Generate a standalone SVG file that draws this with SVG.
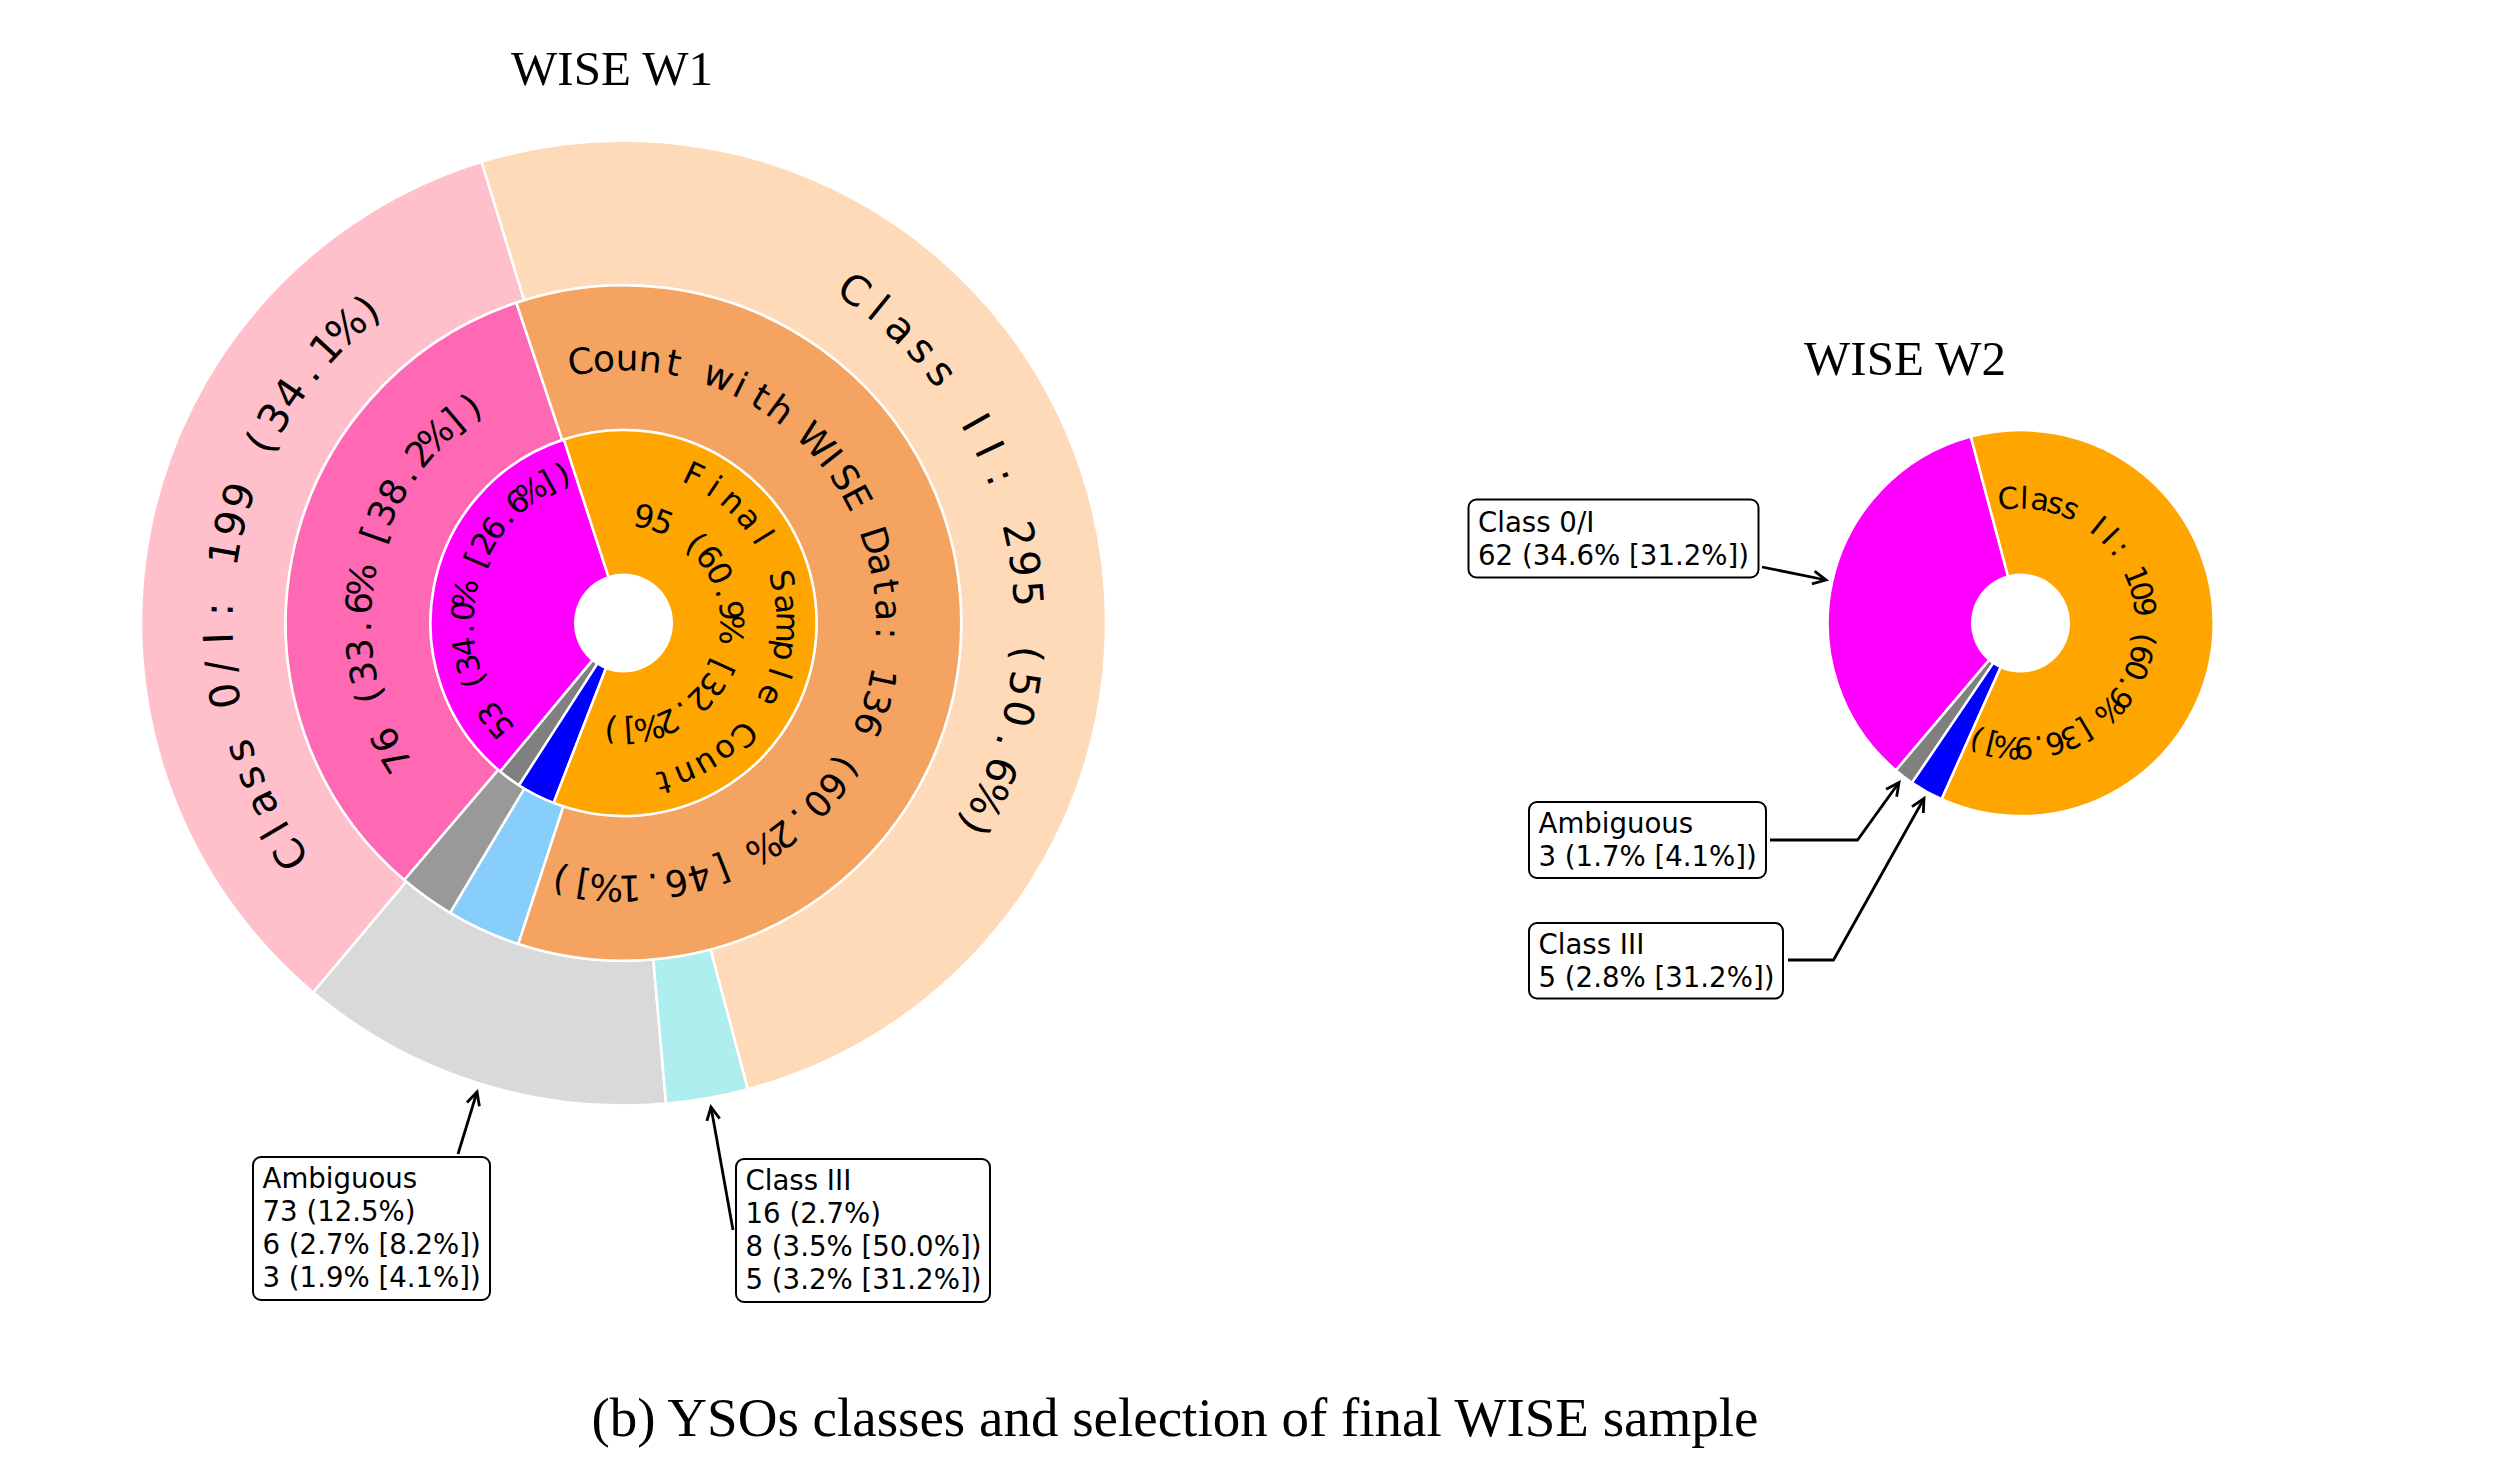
<svg xmlns="http://www.w3.org/2000/svg" width="2494" height="1463" viewBox="0 0 2494 1463">
<style>
  .w { stroke: #ffffff; stroke-width: 2.5; stroke-linejoin: round; }
  .ct text { font-family: "DejaVu Sans", sans-serif; text-anchor: middle; dominant-baseline: central; fill: #000; }
  .o { font-size: 41px; }
  .m { font-size: 36px; }
  .i1 { font-size: 31px; }
  .i2 { font-size: 32px; }
  .i3 { font-size: 32px; }
  .w2t { font-size: 30px; }
  .box rect { fill: #ffffff; stroke: #000000; stroke-width: 2; }
  .box text { font-family: "DejaVu Sans", sans-serif; font-size: 27.6px; fill: #000; }
  .title { font-family: "Liberation Serif", "Times New Roman", serif; fill: #000; text-anchor: middle; }
  .conn { fill: none; stroke: #000; stroke-width: 2.8; marker-end: url(#ah); }
</style>
<defs>
  <marker id="ah" markerUnits="userSpaceOnUse" viewBox="-16 -10 20 20" refX="0" refY="0" markerWidth="20" markerHeight="20" orient="auto">
    <path d="M-13,-6.5 L0,0 L-13,6.5" fill="none" stroke="#000" stroke-width="2.8"/>
  </marker>
</defs>
<rect x="0" y="0" width="2494" height="1463" fill="#ffffff"/>

<text class="title" x="612" y="85" font-size="49">WISE W1</text>
<text class="title" x="1905" y="374.5" font-size="49">WISE W2</text>
<text class="title" x="1175" y="1436" font-size="55">(b) YSOs classes and selection of final WISE sample</text>

<!-- W1 outer ring -->
<g id="w1-outer">
  <path id="w1-outer-class0I" class="w" fill="#FFC0CB" d="M 481.63 161.83 A 482.5 482.5 0 0 0 313.22 992.51 L 406.31 881.66 A 337.75 337.75 0 0 1 524.19 300.18 Z"/>
  <path id="w1-outer-ambiguous" class="w" fill="#D9D9D9" d="M 313.22 992.51 A 482.5 482.5 0 0 0 666.06 1103.62 L 653.29 959.43 A 337.75 337.75 0 0 1 406.31 881.66 Z"/>
  <path id="w1-outer-class3" class="w" fill="#AFEEEE" d="M 666.06 1103.62 A 482.5 482.5 0 0 0 747.89 1089.19 L 710.58 949.33 A 337.75 337.75 0 0 1 653.29 959.43 Z"/>
  <path id="w1-outer-class2" class="w" fill="#FFDAB9" d="M 747.89 1089.19 A 482.5 482.5 0 1 0 481.63 161.83 L 524.19 300.18 A 337.75 337.75 0 1 1 710.58 949.33 Z"/>
</g>
<!-- W1 middle ring -->
<g id="w1-middle">
  <path id="w1-mid-class0I" class="w" fill="#FF69B4" d="M 516.33 302.70 A 337.75 337.75 0 0 0 404.41 880.06 L 498.31 769.89 A 193 193 0 0 1 562.26 439.97 Z"/>
  <path id="w1-mid-ambiguous" class="w" fill="#999999" d="M 404.41 880.06 A 337.75 337.75 0 0 0 450.15 912.87 L 524.44 788.64 A 193 193 0 0 1 498.31 769.89 Z"/>
  <path id="w1-mid-class3" class="w" fill="#87CEFA" d="M 450.15 912.87 A 337.75 337.75 0 0 0 518.34 943.96 L 563.41 806.41 A 193 193 0 0 1 524.44 788.64 Z"/>
  <path id="w1-mid-class2" class="w" fill="#F4A460" d="M 518.34 943.96 A 337.75 337.75 0 1 0 516.33 302.70 L 562.26 439.97 A 193 193 0 1 1 563.41 806.41 Z"/>
</g>
<!-- W1 inner ring -->
<g id="w1-inner">
  <path id="w1-in-class0I" class="w" fill="#FF00FF" d="M 563.86 439.45 A 193 193 0 0 0 500.24 771.52 L 592.68 660.13 A 48.25 48.25 0 0 1 608.59 577.11 Z"/>
  <path id="w1-in-ambiguous" class="w" fill="#808080" d="M 500.24 771.52 A 193 193 0 0 0 519.03 785.29 L 597.38 663.57 A 48.25 48.25 0 0 1 592.68 660.13 Z"/>
  <path id="w1-in-class3" class="w" fill="#0000FF" d="M 519.03 785.29 A 193 193 0 0 0 553.61 802.90 L 606.03 667.98 A 48.25 48.25 0 0 1 597.38 663.57 Z"/>
  <path id="w1-in-class2" class="w" fill="#FFA500" d="M 553.61 802.90 A 193 193 0 1 0 563.86 439.45 L 608.59 577.11 A 48.25 48.25 0 1 1 606.03 667.98 Z"/>
</g>

<!-- W1 curved labels -->
<g transform="translate(623.5,623)">
  <g id="lbl-outer-class0I" class="ct o">
    <text transform="rotate(-124.8)" y="-405">C</text><text transform="rotate(-120.72)" y="-405">l</text><text transform="rotate(-116.64)" y="-405">a</text><text transform="rotate(-112.56)" y="-405">s</text><text transform="rotate(-108.48)" y="-405">s</text>
    <text transform="rotate(-100.32)" y="-405">0</text><text transform="rotate(-96.24)" y="-405">/</text><text transform="rotate(-92.16)" y="-405">I</text><text transform="rotate(-88.08)" y="-405">:</text>
    <text transform="rotate(-79.92)" y="-405">1</text><text transform="rotate(-75.84)" y="-405">9</text><text transform="rotate(-71.76)" y="-405">9</text>
    <text transform="rotate(-63.6)" y="-405">(</text><text transform="rotate(-59.52)" y="-405">3</text><text transform="rotate(-55.44)" y="-405">4</text><text transform="rotate(-51.36)" y="-405">.</text><text transform="rotate(-47.28)" y="-405">1</text><text transform="rotate(-43.2)" y="-405">%</text><text transform="rotate(-39.12)" y="-405">)</text>
  </g>
  <g id="lbl-outer-class2" class="ct o">
    <text transform="rotate(34.75)" y="-405">C</text><text transform="rotate(39.01)" y="-405">l</text><text transform="rotate(43.27)" y="-405">a</text><text transform="rotate(47.53)" y="-405">s</text><text transform="rotate(51.79)" y="-405">s</text>
    <text transform="rotate(60.31)" y="-405">I</text><text transform="rotate(64.57)" y="-405">I</text><text transform="rotate(68.83)" y="-405">:</text>
    <text transform="rotate(77.35)" y="-405">2</text><text transform="rotate(81.61)" y="-405">9</text><text transform="rotate(85.87)" y="-405">5</text>
    <text transform="rotate(94.39)" y="-405">(</text><text transform="rotate(98.65)" y="-405">5</text><text transform="rotate(102.91)" y="-405">0</text><text transform="rotate(107.17)" y="-405">.</text><text transform="rotate(111.43)" y="-405">6</text><text transform="rotate(115.69)" y="-405">%</text><text transform="rotate(119.95)" y="-405">)</text>
  </g>
  <g id="lbl-mid-class0I" class="ct m">
    <text transform="rotate(-121.2)" y="-265">7</text><text transform="rotate(-116.13)" y="-265">6</text>
    <text transform="rotate(-105.99)" y="-265">(</text><text transform="rotate(-100.92)" y="-265">3</text><text transform="rotate(-95.85)" y="-265">3</text><text transform="rotate(-90.78)" y="-265">.</text><text transform="rotate(-85.71)" y="-265">6</text><text transform="rotate(-80.64)" y="-265">%</text>
    <text transform="rotate(-70.5)" y="-265">[</text><text transform="rotate(-65.43)" y="-265">3</text><text transform="rotate(-60.36)" y="-265">8</text><text transform="rotate(-55.29)" y="-265">.</text><text transform="rotate(-50.22)" y="-265">2</text><text transform="rotate(-45.15)" y="-265">%</text><text transform="rotate(-40.08)" y="-265">]</text><text transform="rotate(-35.01)" y="-265">)</text>
  </g>
  <g id="lbl-mid-class2" class="ct m">
    <text transform="rotate(-9.36)" y="-265">C</text><text transform="rotate(-4.28)" y="-265">o</text><text transform="rotate(0.8)" y="-265">u</text><text transform="rotate(5.88)" y="-265">n</text><text transform="rotate(10.96)" y="-265">t</text>
    <text transform="rotate(21.12)" y="-265">w</text><text transform="rotate(26.2)" y="-265">i</text><text transform="rotate(31.28)" y="-265">t</text><text transform="rotate(36.36)" y="-265">h</text>
    <text transform="rotate(46.52)" y="-265">W</text><text transform="rotate(51.6)" y="-265">I</text><text transform="rotate(56.68)" y="-265">S</text><text transform="rotate(61.76)" y="-265">E</text>
    <text transform="rotate(71.92)" y="-265">D</text><text transform="rotate(77)" y="-265">a</text><text transform="rotate(82.08)" y="-265">t</text><text transform="rotate(87.16)" y="-265">a</text><text transform="rotate(92.24)" y="-265">:</text>
    <text transform="rotate(102.4)" y="-265">1</text><text transform="rotate(107.48)" y="-265">3</text><text transform="rotate(112.56)" y="-265">6</text>
    <text transform="rotate(122.72)" y="-265">(</text><text transform="rotate(127.8)" y="-265">6</text><text transform="rotate(132.88)" y="-265">0</text><text transform="rotate(137.96)" y="-265">.</text><text transform="rotate(143.04)" y="-265">2</text><text transform="rotate(148.12)" y="-265">%</text>
    <text transform="rotate(158.28)" y="-265">[</text><text transform="rotate(163.36)" y="-265">4</text><text transform="rotate(168.44)" y="-265">6</text><text transform="rotate(173.52)" y="-265">.</text><text transform="rotate(178.6)" y="-265">1</text><text transform="rotate(183.68)" y="-265">%</text><text transform="rotate(188.76)" y="-265">]</text><text transform="rotate(193.84)" y="-265">)</text>
  </g>
  <g id="lbl-in-class0I" class="ct i1">
    <text transform="rotate(-130.3)" y="-161">5</text><text transform="rotate(-123.94)" y="-161">3</text>
    <text transform="rotate(-111.22)" y="-161">(</text><text transform="rotate(-104.86)" y="-161">3</text><text transform="rotate(-98.5)" y="-161">4</text><text transform="rotate(-92.14)" y="-161">.</text><text transform="rotate(-85.78)" y="-161">0</text><text transform="rotate(-79.42)" y="-161">%</text>
    <text transform="rotate(-66.7)" y="-161">[</text><text transform="rotate(-60.34)" y="-161">2</text><text transform="rotate(-53.98)" y="-161">6</text><text transform="rotate(-47.62)" y="-161">.</text><text transform="rotate(-41.26)" y="-161">6</text><text transform="rotate(-34.9)" y="-161">%</text><text transform="rotate(-28.54)" y="-161">]</text><text transform="rotate(-22.18)" y="-161">)</text>
  </g>
  <g id="lbl-in-final" class="ct i2">
    <text transform="rotate(25.4)" y="-164">F</text><text transform="rotate(33.66)" y="-164">i</text><text transform="rotate(41.92)" y="-164">n</text><text transform="rotate(50.18)" y="-164">a</text><text transform="rotate(58.44)" y="-164">l</text>
    <text transform="rotate(74.96)" y="-164">S</text><text transform="rotate(83.22)" y="-164">a</text><text transform="rotate(91.48)" y="-164">m</text><text transform="rotate(99.74)" y="-164">p</text><text transform="rotate(108)" y="-164">l</text><text transform="rotate(116.26)" y="-164">e</text>
    <text transform="rotate(132.78)" y="-164">C</text><text transform="rotate(141.04)" y="-164">o</text><text transform="rotate(149.3)" y="-164">u</text><text transform="rotate(157.56)" y="-164">n</text><text transform="rotate(165.82)" y="-164">t</text>
  </g>
  <g id="lbl-in-class2" class="ct i3">
    <text transform="rotate(11)" y="-108">9</text><text transform="rotate(21.34)" y="-108">5</text>
    <text transform="rotate(42.02)" y="-108">(</text><text transform="rotate(52.36)" y="-108">6</text><text transform="rotate(62.7)" y="-108">0</text><text transform="rotate(73.04)" y="-108">.</text><text transform="rotate(83.38)" y="-108">9</text><text transform="rotate(93.72)" y="-108">%</text>
    <text transform="rotate(114.4)" y="-108">[</text><text transform="rotate(124.74)" y="-108">3</text><text transform="rotate(135.08)" y="-108">2</text><text transform="rotate(145.42)" y="-108">.</text><text transform="rotate(155.76)" y="-108">2</text><text transform="rotate(166.1)" y="-108">%</text><text transform="rotate(176.44)" y="-108">]</text><text transform="rotate(186.78)" y="-108">)</text>
  </g>
</g>

<!-- W2 pie -->
<g id="w2-pie">
  <path id="w2-class0I" class="w" fill="#FF00FF" d="M 1970.87 436.66 A 193 193 0 0 0 1895.90 770.39 L 1989.35 659.85 A 48.25 48.25 0 0 1 2008.09 576.42 Z"/>
  <path id="w2-ambiguous" class="w" fill="#808080" d="M 1895.90 770.39 A 193 193 0 0 0 1912.07 782.67 L 1993.39 662.92 A 48.25 48.25 0 0 1 1989.35 659.85 Z"/>
  <path id="w2-class3" class="w" fill="#0000FF" d="M 1912.07 782.67 A 193 193 0 0 0 1941.63 799.15 L 2000.78 667.04 A 48.25 48.25 0 0 1 1993.39 662.92 Z"/>
  <path id="w2-class2" class="w" fill="#FFA500" d="M 1941.63 799.15 A 193 193 0 1 0 1970.87 436.66 L 2008.09 576.42 A 48.25 48.25 0 1 1 2000.78 667.04 Z"/>
</g>
<g transform="translate(2020.5,623)">
  <g id="lbl-w2-class2" class="ct w2t">
    <text transform="rotate(-5.7)" y="-125">C</text><text transform="rotate(1.67)" y="-125">l</text><text transform="rotate(9.04)" y="-125">a</text><text transform="rotate(16.41)" y="-125">s</text><text transform="rotate(23.78)" y="-125">s</text>
    <text transform="rotate(38.52)" y="-125">I</text><text transform="rotate(45.89)" y="-125">I</text><text transform="rotate(53.26)" y="-125">:</text>
    <text transform="rotate(68)" y="-125">1</text><text transform="rotate(75.37)" y="-125">0</text><text transform="rotate(82.74)" y="-125">9</text>
    <text transform="rotate(97.48)" y="-125">(</text><text transform="rotate(104.85)" y="-125">6</text><text transform="rotate(112.22)" y="-125">0</text><text transform="rotate(119.59)" y="-125">.</text><text transform="rotate(126.96)" y="-125">9</text><text transform="rotate(134.33)" y="-125">%</text>
    <text transform="rotate(149.07)" y="-125">[</text><text transform="rotate(156.44)" y="-125">3</text><text transform="rotate(163.81)" y="-125">6</text><text transform="rotate(171.18)" y="-125">.</text><text transform="rotate(178.55)" y="-125">9</text><text transform="rotate(185.92)" y="-125">%</text><text transform="rotate(193.29)" y="-125">]</text><text transform="rotate(200.66)" y="-125">)</text>
  </g>
</g>

<!-- connectors -->
<g id="connectors">
  <path id="c-w1-amb" class="conn" d="M 458 1154 L 477 1092"/>
  <path id="c-w1-c3" class="conn" d="M 733 1230 L 711 1107"/>
  <path id="c-w2-c0" class="conn" d="M 1762 567 L 1826 580"/>
  <path id="c-w2-amb" class="conn" d="M 1770 840 L 1857.5 840 L 1899 782.5"/>
  <path id="c-w2-c3" class="conn" d="M 1788 960 L 1833.5 960 L 1924 798.5"/>
</g>

<!-- annotation boxes -->
<g id="box-w1-ambiguous" class="box">
  <rect x="253" y="1157" width="237" height="143" rx="8"/>
  <text x="262.5" y="1188">Ambiguous</text>
  <text x="262.5" y="1221">73 (12.5%)</text>
  <text x="262.5" y="1254">6 (2.7% [8.2%])</text>
  <text x="262.5" y="1287">3 (1.9% [4.1%])</text>
</g>
<g id="box-w1-class3" class="box">
  <rect x="736" y="1159" width="254" height="143" rx="8"/>
  <text x="745.5" y="1190">Class III</text>
  <text x="745.5" y="1223">16 (2.7%)</text>
  <text x="745.5" y="1256">8 (3.5% [50.0%])</text>
  <text x="745.5" y="1289">5 (3.2% [31.2%])</text>
</g>
<g id="box-w2-class0I" class="box">
  <rect x="1468.5" y="499.5" width="290" height="78" rx="8"/>
  <text x="1478" y="532">Class 0/I</text>
  <text x="1478" y="564.5">62 (34.6% [31.2%])</text>
</g>
<g id="box-w2-ambiguous" class="box">
  <rect x="1529" y="802" width="237" height="76" rx="8"/>
  <text x="1538.5" y="833">Ambiguous</text>
  <text x="1538.5" y="866">3 (1.7% [4.1%])</text>
</g>
<g id="box-w2-class3" class="box">
  <rect x="1529" y="923" width="254" height="75.5" rx="8"/>
  <text x="1538.5" y="954">Class III</text>
  <text x="1538.5" y="986.5">5 (2.8% [31.2%])</text>
</g>
</svg>
